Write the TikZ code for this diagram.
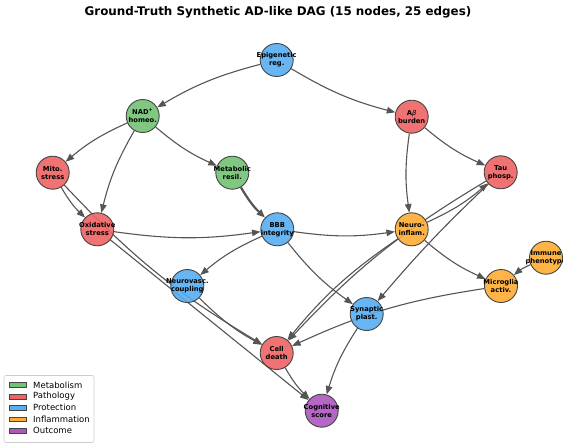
\documentclass[tikz,border=0pt]{standalone}
\usepackage{fontspec}
\setmainfont{DejaVu Sans}
\usetikzlibrary{arrows.meta}
\definecolor{cmet}{RGB}{114,194,116}
\definecolor{cpat}{RGB}{239,99,99}
\definecolor{cpro}{RGB}{86,174,242}
\definecolor{cinf}{RGB}{255,172,52}
\definecolor{cout}{RGB}{172,86,190}
\definecolor{nedge}{RGB}{68,68,68}
\definecolor{ecol}{RGB}{85,85,85}
\pgfdeclarelayer{background}
\pgfsetlayers{background,main}
\begin{document}
\begin{tikzpicture}[x=1pt,y=-1pt,
  nd/.style={circle, draw=nedge, line width=0.9pt, minimum size=33pt, inner sep=0pt,
    fill opacity=0.9},
  lbl/.style={inner sep=0pt, align=center, text=black,
    font=\fontsize{6.75}{8}\selectfont\bfseries},
  edge/.style={draw=ecol, line width=1.1pt, -{Triangle[length=8.5pt,width=6.5pt]}, bend right=8},
  leg/.style={anchor=west, inner sep=0pt, font=\fontsize{8.5}{10}\selectfont},
  patch/.style={draw=nedge, line width=0.6pt}
]
\useasboundingbox (0,0) rectangle (563,445);
\node[font=\fontsize{11.9}{14}\selectfont\bfseries] (title) at (278,12.5) {Ground-Truth Synthetic AD-like DAG (15 nodes, 25 edges)};

\node[nd, fill=cpro] (epi)  at (276.7,60)    {};
\node[nd, fill=cmet] (nad)  at (142.7,116)   {};
\node[nd, fill=cpat] (ab)   at (411.7,116.7) {};
\node[nd, fill=cpat] (mito) at (52.7,172.7)  {};
\node[nd, fill=cmet] (met)  at (232.3,172.7) {};
\node[nd, fill=cpat] (tau)  at (500.7,172.3) {};
\node[nd, fill=cpat] (ox)   at (97.3,229.3)  {};
\node[nd, fill=cpro] (bbb)  at (277.3,229.3) {};
\node[nd, fill=cinf] (ni)   at (411.7,229.3) {};
\node[nd, fill=cinf] (imm)  at (546,257.7)   {};
\node[nd, fill=cpro] (nv)   at (187.3,286)   {};
\node[nd, fill=cinf] (mg)   at (501,286)     {};
\node[nd, fill=cpro] (syn)  at (366.7,314)   {};
\node[nd, fill=cpat] (cd)   at (276.7,353)   {};
\node[nd, fill=cout] (cog)  at (321.7,410.7) {};

\node[lbl] (epi-t)  at (epi)  {Epigenetic\\reg.};
\node[lbl] (nad-t)  at (nad)  {NAD\textsuperscript{+}\\homeo.};
\node[lbl] (ab-t)   at (ab)   {A{\mdseries\itshape β}\\burden};
\node[lbl] (mito-t) at (mito) {Mito.\\stress};
\node[lbl] (met-t)  at (met)  {Metabolic\\resil.};
\node[lbl] (tau-t)  at (tau)  {Tau\\phosp.};
\node[lbl] (ox-t)   at (ox)   {Oxidative\\stress};
\node[lbl] (bbb-t)  at (bbb)  {BBB\\integrity};
\node[lbl] (ni-t)   at (ni)   {Neuro-\\inflam.};
\node[lbl] (imm-t)  at (imm)  {Immune\\phenotype};
\node[lbl] (nv-t)   at (nv)   {Neurovasc.\\coupling};
\node[lbl] (mg-t)   at (mg)   {Microglia\\activ.};
\node[lbl] (syn-t)  at (syn)  {Synaptic\\plast.};
\node[lbl] (cd-t)   at (cd)   {Cell\\death};
\node[lbl] (cog-t)  at (cog)  {Cognitive\\score};

\begin{pgfonlayer}{background}
\draw[edge] (epi) to (nad);
\draw[edge] (epi) to (ab);
\draw[edge] (nad) to (mito);
\draw[edge] (nad) to (ox);
\draw[edge] (nad) to (met);
\draw[edge] (mito) to (ox);
\draw[edge] (mito) to (cd);
\draw[edge, line width=2.2pt] (met) to (bbb);
\draw[edge] (ox) to (bbb);
\draw[edge, bend right=0] (ox) to (cog);
\draw[edge] (bbb) to (ni);
\draw[edge] (bbb) to (nv);
\draw[edge] (bbb) to (syn);
\draw[edge] (ab) to (ni);
\draw[edge] (ab) to (tau);
\draw[edge] (ni) to (tau);
\draw[edge] (ni) to (cd);
\draw[edge] (tau) to (cd);
\draw[edge, bend right=3] (tau) to (syn);
\draw[edge] (ni) to (mg);
\draw[edge] (imm) to (mg);
\draw[edge] (mg) to (cd);
\draw[edge] (syn) to (cog);
\draw[edge] (cd) to (cog);
\draw[edge] (nv) to (cd);
\end{pgfonlayer}

\draw[draw=black!20, fill=white, rounded corners=2pt, line width=0.6pt] (4,375.5) rectangle (94,442.5);
\draw[patch, fill=cmet] (9.5,382.6) rectangle (26,387.4);
\draw[patch, fill=cpat] (9.5,394.0) rectangle (26,398.8);
\draw[patch, fill=cpro] (9.5,405.4) rectangle (26,410.2);
\draw[patch, fill=cinf] (9.5,416.8) rectangle (26,421.6);
\draw[patch, fill=cout] (9.5,428.2) rectangle (26,433.0);
\node[leg] (l1) at (33,385.0) {Metabolism};
\node[leg] (l2) at (33,396.4) {Pathology};
\node[leg] (l3) at (33,407.8) {Protection};
\node[leg] (l4) at (33,419.2) {Inflammation};
\node[leg] (l5) at (33,430.6) {Outcome};
\end{tikzpicture}
\end{document}
